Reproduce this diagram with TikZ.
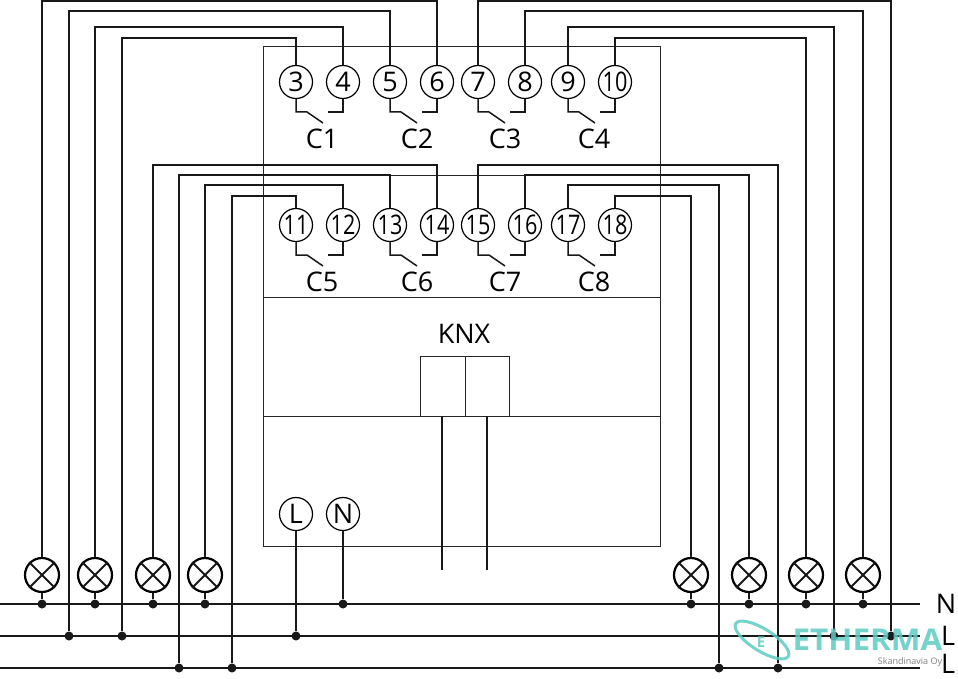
\documentclass[tikz,border=0pt]{standalone}
\usepackage{fontspec}
\setmainfont{Open Sans}
\usetikzlibrary{calc,shapes.geometric}
\definecolor{logoteal}{HTML}{5CCBC2}
\newcommand{\narrow}[1]{\scalebox{0.8}[1]{#1}}
\tikzset{
	wire/.style={line width=2.2pt, color=black!90},
	bus/.style={line width=2.4pt, color=black!90},
	thin wire/.style={line width=1pt, color=black!85},
	terminal/.style={draw, circle, line width=1.2pt, minimum size=33pt, inner sep=0pt, font=\fontsize{27}{27}\selectfont},
	lamp/.style={draw, circle, line width=2.2pt, minimum size=34pt, inner sep=0pt},
	junction/.style={fill=black!90, circle, minimum size=9pt, inner sep=0pt},
	label/.style={inner sep=0pt, font=\fontsize{27}{27}\selectfont}
}
\begin{document}
\begin{tikzpicture}[x=1pt, y=-1pt]
	\useasboundingbox (0,0) rectangle (958,679);

	% housing
	\node[draw, thin wire, minimum width=397pt, minimum height=499pt, outer sep=0pt] (box) at (461.5,296.5) {};
	\foreach \y in {176, 297, 416}
		\draw[thin wire] (box.west |- 0,\y) -- (box.east |- 0,\y);
	\node[draw, thin wire, minimum width=45pt, minimum height=60pt, outer sep=0pt] (knxa) at (442.5,386) {};
	\node[draw, thin wire, minimum width=44pt, minimum height=60pt, outer sep=0pt] (knxb) at (487,386) {};
	\node[label] (knx) at (464,334) {KNX};
	\coordinate (knxaend) at (442,570);
	\coordinate (knxbend) at (487,570);
	\draw[wire] (442,416) -- (knxaend);
	\draw[wire] (487,416) -- (knxbend);

	% supply lines
	\foreach \y/\name/\txt/\lx/\ly in {604/busn/N/946/604, 636/busa/L/948/636, 668/busb/L/948/664}
	{
		\coordinate (\name west) at (0,\y);
		\coordinate (\name east) at (920,\y);
		\draw[bus] (\name west) -- (\name east);
		\node[label] (\name txt) at (\lx,\ly) {\txt};
	}
	\foreach \x in {69, 122, 296, 834, 891}
		\node[junction] (a\x) at (\x,636) {};
	\foreach \x in {179, 232, 719, 778}
		\node[junction] (b\x) at (\x,668) {};
	\foreach \x in {42, 95, 153, 205, 343, 691, 749, 806, 863}
		\node[junction] (n\x) at (\x,604) {};

	% lamps
	\foreach \x in {42, 95, 153, 205, 691, 749, 806, 863}
	{
		\node[lamp] (l\x) at (\x,575) {};
		\draw[line width=2pt, color=black!90] (l\x.north west) -- (l\x.south east);
		\draw[line width=2pt, color=black!90] (l\x.north east) -- (l\x.south west);
		\draw[wire] (l\x.south) -- (n\x);
	}

	% terminals
	\foreach \n/\x in {3/296, 4/343, 5/390, 6/437, 7/478, 8/525, 9/568}
		\node[terminal] (t\n) at (\x,82) {\n};
	\node[terminal] (t10) at (615,82) {\narrow{10}};
	\foreach \n/\x in {11/296, 12/343, 13/390, 14/437, 15/478, 16/525, 17/568, 18/615}
		\node[terminal] (t\n) at (\x,225) {\narrow{\n}};
	\node[terminal] (tl) at (296,514) {L};
	\node[terminal] (tn) at (343,514) {N};
	\draw[wire] (tl) -- (a296);
	\draw[wire] (tn) -- (n343);

	% contacts
	\foreach \a/\b/\txt/\lx/\ly in {3/4/C1/322/139, 5/6/C2/417/139, 7/8/C3/505/139, 9/10/C4/594/139, 11/12/C5/322/282, 13/14/C6/417/282, 15/16/C7/505/282, 17/18/C8/594/282}
	{
		\coordinate (arm\a) at ($(t\a.center)+(27,41)$);
		\coordinate (stop\b) at ($(t\b.center)+(-15,30)$);
		\draw[line width=1.5pt, color=black!90] (t\a.south) -- ($(t\a.center)+(0,30)$) -- ($(t\a.center)+(11,30)$) -- (arm\a);
		\draw[line width=1.5pt, color=black!90] (t\b.south) |- (stop\b);
		\node[label] (\txt) at (\lx,\ly) {\txt};
	}

	% outputs to the lamps and lines
	\foreach \n/\y/\e in {3/38/a122, 4/27/l95.north, 5/11/a69, 6/1/l42.north, 7/1/a891, 8/11/l863.north, 9/27/a834, 10/38/l806.north, 11/196/b232, 12/185/l205.north, 13/175/b179, 14/165/l153.north, 15/165/b778, 16/175/l749.north, 17/185/b719, 18/196/l691.north}
		\draw[wire] (t\n.north) -- (t\n.north |- 0,\y) -| (\e);

	% logo
	\begin{scope}[opacity=0.85]
		\node[draw=logoteal, line width=3pt, ellipse, minimum width=62pt, minimum height=22pt, inner sep=0pt, rotate=-32] (logoring) at (762,640) {};
		\node[text=logoteal, inner sep=0pt, font=\fontsize{15}{15}\selectfont\bfseries] (logoe) at (761,642) {E};
		\node[text=logoteal, inner sep=0pt, font=\fontsize{30}{30}\selectfont\bfseries] (logotxt) at (867.5,640) {\scalebox{1.05}[1]{ETHERMA}};
	\end{scope}
	\node[text=black!50, inner sep=0pt, font=\fontsize{9}{9}\selectfont] (logosub) at (910,662) {Skandinavia Oy};
\end{tikzpicture}
\end{document}
